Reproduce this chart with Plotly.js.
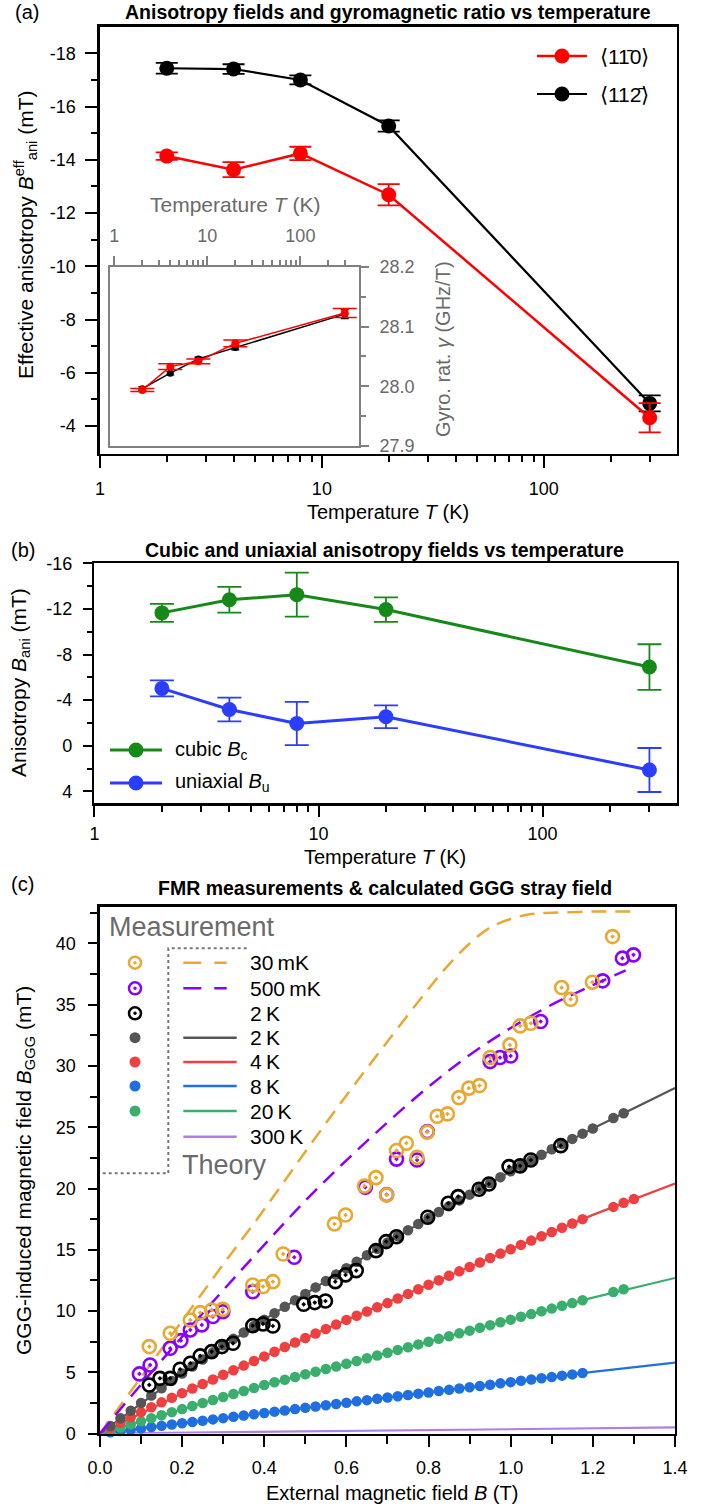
<!DOCTYPE html>
<html><head><meta charset="utf-8">
<script src="https://cdn.plot.ly/plotly-3.0.1.min.js"></script>
<style>html,body{margin:0;padding:0;background:#fff}#chart{width:712px;height:1507px}</style>
</head><body><div id="chart"></div>
<script>
// ---------- Panel (a) data ----------
const temperatures = [2, 4, 8, 20, 300];
const aniso110 = [-14.14, -13.63, -14.24, -12.69, -4.31];
const aniso110Err = [0.14, 0.28, 0.25, 0.4, 0.55];
const aniso112 = [-17.44, -17.41, -17.0, -15.27, -4.85];
const aniso112Err = [0.2, 0.18, 0.17, 0.21, 0.3];
// inset: gyromagnetic ratio (GHz/T)
const gamma110 = [27.994, 28.033, 28.042, 28.072, 28.123];
const gamma110Err = [0.0025, 0.0047, 0.004, 0.0056, 0.0075];
const gamma112 = [27.996, 28.022, 28.046, 28.065, 28.121];
const gamma112Err = [0.003, 0.003, 0.003, 0.004, 0.0075];

// ---------- Panel (b) data ----------
const cubicB = [-11.65, -12.8, -13.25, -11.94, -6.9];
const cubicErr = [0.79, 1.13, 1.93, 1.07, 2.0];
const uniaxB = [-5.03, -3.18, -1.95, -2.54, 2.13];
const uniaxErr = [0.7, 1.04, 1.89, 1.0, 1.93];

// ---------- Panel (c) data ----------
const fieldGrid = [0.025,0.05,0.075,0.1,0.125,0.15,0.175,0.2,0.225,0.25,0.275,0.3,0.325,0.35,0.375,0.4,0.425,0.45,0.475,0.5,0.525,0.55,0.575,0.6,0.625,0.65,0.675,0.7,0.725,0.75,0.775,0.8,0.825,0.85,0.875,0.9,0.925,0.95,0.975,1.0,1.025,1.05,1.075,1.1,1.125,1.15,1.175];
const field2KDots = fieldGrid.concat([1.2, 1.25, 1.275]);
const dots2K = [0.62,1.25,1.87,2.5,3.1,3.7,4.3,4.9,5.48,6.05,6.63,7.2,7.73,8.25,8.78,9.3,9.83,10.35,10.88,11.4,11.93,12.45,12.98,13.5,14.03,14.55,15.08,15.6,16.1,16.6,17.1,17.6,18.08,18.55,19.03,19.5,19.98,20.45,20.93,21.4,21.85,22.3,22.75,23.2,23.63,24.05,24.48,24.9,25.75,26.15];
const field4KDots = fieldGrid.concat([1.25, 1.275, 1.3]);
const dots4K = [0.45,0.9,1.33,1.75,2.15,2.55,2.92,3.3,3.68,4.05,4.42,4.8,5.17,5.55,5.92,6.3,6.68,7.06,7.43,7.8,8.17,8.54,8.91,9.28,9.62,9.97,10.31,10.65,11.03,11.4,11.78,12.15,12.51,12.88,13.24,13.6,13.96,14.33,14.69,15.05,15.4,15.75,16.1,16.45,16.8,17.15,17.5,18.5,18.83,19.15];
const field20KDots = fieldGrid.concat([1.25, 1.275]);
const dots20K = [0.25,0.5,0.75,1.0,1.25,1.5,1.75,2.0,2.25,2.49,2.74,2.98,3.23,3.48,3.72,3.97,4.19,4.4,4.62,4.84,5.05,5.27,5.48,5.7,5.93,6.15,6.38,6.6,6.83,7.05,7.28,7.5,7.73,7.95,8.18,8.4,8.63,8.85,9.08,9.3,9.53,9.75,9.98,10.2,10.43,10.65,10.88,11.55,11.78];
const dots8K = [0.1,0.21,0.32,0.42,0.53,0.63,0.74,0.84,0.95,1.05,1.16,1.26,1.37,1.47,1.58,1.68,1.79,1.89,2.0,2.1,2.21,2.31,2.42,2.52,2.63,2.73,2.84,2.94,3.05,3.15,3.26,3.36,3.47,3.57,3.68,3.78,3.89,3.99,4.1,4.2,4.31,4.41,4.52,4.62,4.73,4.83,4.94];

// theory curves
const fieldTheory = [0, 0.2, 0.4, 0.6, 0.8, 1.0, 1.2, 1.4];
const theory2K = [0, 4.9, 9.3, 13.5, 17.6, 21.4, 24.9, 28.2];
const theory4K = [0, 3.3, 6.3, 9.28, 12.15, 15.05, 17.85, 20.4];
const theory8K = [0, 0.84, 1.68, 2.52, 3.36, 4.2, 5.04, 5.8];
const theory20K = [0, 2.0, 3.97, 5.7, 7.5, 9.3, 11.1, 12.7];
const theory300K = [0, 0.07, 0.14, 0.21, 0.28, 0.35, 0.42, 0.5];
const field30mKTheory = [0, 0.1, 0.2, 0.3, 0.4, 0.5, 0.6, 0.7, 0.8, 0.85, 0.9, 0.95, 1.0, 1.05, 1.1, 1.2, 1.3];
const theory30mK = [0, 4.6, 9.2, 13.8, 18.3, 23.0, 27.6, 32.0, 36.3, 38.3, 40.0, 41.3, 42.0, 42.4, 42.5, 42.6, 42.6];
const field500mKTheory = [0, 0.1, 0.2, 0.3, 0.4, 0.5, 0.6, 0.7, 0.8, 0.9, 1.0, 1.1, 1.2, 1.28];
const theory500mK = [0, 4.0, 7.9, 11.7, 15.4, 19.0, 22.3, 25.4, 28.3, 30.9, 33.1, 35.0, 36.6, 37.8];

// measurements (open circles)
const field30mKMeas = [0.120,0.171,0.220,0.244,0.272,0.299,0.372,0.397,0.421,0.446,0.571,0.598,0.644,0.672,0.698,0.722,0.746,0.772,0.797,0.821,0.846,0.874,0.898,0.924,0.950,0.998,1.023,1.049,1.124,1.146,1.199,1.248];
const meas30mK = [7.1,8.19,9.27,9.87,10.09,10.14,12.13,12.0,12.4,14.66,17.11,17.84,20.21,20.89,19.48,23.1,23.7,22.55,24.6,25.9,26.09,27.42,28.19,28.4,30.69,31.72,33.27,33.49,36.4,35.45,36.84,40.56];
const field500mKMeas = [0.096,0.122,0.171,0.197,0.220,0.248,0.275,0.299,0.372,0.473,0.646,0.698,0.722,0.772,0.797,0.950,0.974,1.0,1.073,1.224,1.272,1.299];
const meas500mK = [4.87,5.6,6.96,7.59,8.46,8.87,9.55,9.95,11.58,14.39,20.1,19.5,22.4,22.33,24.65,30.36,30.69,30.82,33.63,36.95,38.8,39.07];
const field2KMeas = [0.120,0.146,0.171,0.195,0.220,0.244,0.272,0.297,0.324,0.372,0.397,0.421,0.496,0.523,0.549,0.573,0.598,0.624,0.672,0.697,0.722,0.798,0.848,0.872,0.923,0.947,0.996,1.023,1.049,1.122];
const meas2K = [3.97,4.51,4.51,5.25,5.74,6.34,6.69,7.1,7.37,8.81,8.95,8.78,10.55,10.69,10.82,12.4,12.95,13.3,14.93,15.67,16.07,17.66,18.8,19.34,19.94,20.37,21.79,21.85,22.33,23.5];

// ---------- tick labels ----------
const tempTickVals = [1, 10, 100];
const tempTickText = ['1', '10', '100'];
const tempMinor = [2,3,4,5,6,7,8,9,20,30,40,50,60,70,80,90,200,300];
const aTickVals = [-18,-16,-14,-12,-10,-8,-6,-4];
const aTickText = ['-18','-16','-14','-12','-10','-8','-6','-4'];
const gTickVals = [27.9, 28.0, 28.1, 28.2];
const gTickText = ['27.9','28.0','28.1','28.2'];
const bTickVals = [-16,-12,-8,-4,0,4];
const bTickText = ['-16','-12','-8','-4','0','4'];
const cXTickVals = [0,0.2,0.4,0.6,0.8,1.0,1.2,1.4];
const cXTickText = ['0.0','0.2','0.4','0.6','0.8','1.0','1.2','1.4'];
const cYTickVals = [0,5,10,15,20,25,30,35,40];
const cYTickText = ['0','5','10','15','20','25','30','35','40'];

// ---------- styles ----------
const FONT = 'Liberation Sans, Arial, sans-serif';
const RED = '#ff0000', BLACK = '#000000';
const GREEN = '#168a18', BLUE = '#2b3dff';
const C30 = '#e8a832', C500 = '#8a00ff', CGRAY = '#555555', C4K = '#ee4040', C8K = '#1f6fe0', C20K = '#3aae6c', C300K = '#b07ee6';
const GRAYAX = '#808080', GRAYTXT = '#6a6a6a';

const traces = [];
// (a) main
traces.push({x: temperatures, y: aniso112, mode: 'lines+markers', xaxis: 'x', yaxis: 'y',
  line: {color: BLACK, width: 2.2}, marker: {color: BLACK, size: 15},
  error_y: {type: 'data', array: aniso112Err, color: BLACK, thickness: 1.8, width: 11}});
traces.push({x: temperatures, y: aniso110, mode: 'lines+markers', xaxis: 'x', yaxis: 'y',
  line: {color: RED, width: 2.5}, marker: {color: RED, size: 15},
  error_y: {type: 'data', array: aniso110Err, color: RED, thickness: 1.8, width: 11}});
// (a) inset
traces.push({x: temperatures, y: gamma112, mode: 'lines+markers', xaxis: 'x2', yaxis: 'y2',
  line: {color: BLACK, width: 1.5}, marker: {color: BLACK, size: 7},
  error_y: {type: 'data', array: gamma112Err, color: BLACK, thickness: 1.2, width: 4}});
traces.push({x: temperatures, y: gamma110, mode: 'lines+markers', xaxis: 'x2', yaxis: 'y2',
  line: {color: RED, width: 1.5}, marker: {color: RED, size: 8},
  error_y: {type: 'data', array: gamma110Err, color: RED, thickness: 1.5, width: 12}});
// (b)
traces.push({x: temperatures, y: cubicB, mode: 'lines+markers', xaxis: 'x3', yaxis: 'y3',
  line: {color: GREEN, width: 3}, marker: {color: GREEN, size: 15},
  error_y: {type: 'data', array: cubicErr, color: GREEN, thickness: 1.8, width: 12}});
traces.push({x: temperatures, y: uniaxB, mode: 'lines+markers', xaxis: 'x3', yaxis: 'y3',
  line: {color: BLUE, width: 3}, marker: {color: BLUE, size: 15},
  error_y: {type: 'data', array: uniaxErr, color: BLUE, thickness: 1.8, width: 12}});
// (c) theory solid
const solid = (x, y, c) => ({x, y, mode: 'lines', xaxis: 'x4', yaxis: 'y4', line: {color: c, width: 2.2}});
traces.push(solid(fieldTheory, theory300K, C300K));
traces.push(solid(fieldTheory, theory8K, C8K));
traces.push(solid(fieldTheory, theory20K, C20K));
traces.push(solid(fieldTheory, theory4K, C4K));
traces.push(solid(fieldTheory, theory2K, CGRAY));
// (c) dots
const dots = (x, y, c) => ({x, y, mode: 'markers', xaxis: 'x4', yaxis: 'y4', marker: {color: c, size: 10.5}, cliponaxis: false});
traces.push(dots(fieldGrid, dots8K, C8K));
traces.push(dots(field20KDots, dots20K, C20K));
traces.push(dots(field4KDots, dots4K, C4K));
traces.push(dots(field2KDots, dots2K, CGRAY));
// (c) theory dashed
traces.push({x: field30mKTheory, y: theory30mK, mode: 'lines', xaxis: 'x4', yaxis: 'y4', line: {color: C30, width: 2.5, dash: '15px,9px', shape: 'spline'}});
traces.push({x: field500mKTheory, y: theory500mK, mode: 'lines', xaxis: 'x4', yaxis: 'y4', line: {color: C500, width: 2.5, dash: '15px,9px', shape: 'spline'}});
// (c) measurements
const ring = (x, y, c) => ({x, y, mode: 'markers', xaxis: 'x4', yaxis: 'y4', cliponaxis: false,
  marker: {symbol: 'circle-open-dot', color: c, size: 13, line: {color: c, width: 2.6}}});
traces.push(ring(field500mKMeas, meas500mK, C500));
traces.push(ring(field30mKMeas, meas30mK, C30));
traces.push(ring(field2KMeas, meas2K, BLACK));

// ---------- axes ----------
const tf = {family: FONT, size: 18, color: '#000'};
const baseAx = {showgrid: false, zeroline: false, showline: true, linecolor: '#000', linewidth: 2.5, mirror: true,
  ticks: 'outside', tickwidth: 2, tickcolor: '#000', tickfont: tf};
function ax(extra) { return Object.assign({}, baseAx, extra); }
const minorBlack = (vals, len) => ({tickmode: 'array', tickvals: vals, ticks: 'outside', ticklen: len, tickwidth: 2, tickcolor: '#000'});

const layout = {
  width: 712, height: 1507, margin: {l: 0, r: 0, t: 0, b: 0},
  paper_bgcolor: '#fff', plot_bgcolor: 'rgba(0,0,0,0)', showlegend: false,
  font: {family: FONT, color: '#000'},
  xaxis: ax({domain: [0.1404, 0.9508], anchor: 'y', type: 'log', range: [0, 2.6], tickmode: 'array', tickvals: tempTickVals, ticktext: tempTickText,
    ticklen: 12, ticklabelstandoff: 5, minor: minorBlack(tempMinor, 6)}),
  yaxis: ax({domain: [0.69874, 0.98228], anchor: 'x', range: [-2.95, -19], tickmode: 'array', tickvals: aTickVals, ticktext: aTickText,
    ticklen: 12, ticklabelstandoff: 6, minor: minorBlack([-17,-15,-13,-11,-9,-7,-5], 6)}),
  xaxis2: {domain: [0.1545, 0.5042], anchor: 'y2', side: 'top', type: 'log', range: [-0.046, 2.63], showgrid: false, zeroline: false,
    showline: true, mirror: true, linecolor: GRAYAX, linewidth: 2, ticks: 'outside', ticklen: 9, tickwidth: 2, tickcolor: GRAYAX, ticklabelstandoff: 7,
    tickmode: 'array', tickvals: tempTickVals, ticktext: tempTickText, tickfont: {family: FONT, size: 18, color: GRAYTXT},
    minor: {tickmode: 'array', tickvals: tempMinor, ticks: 'outside', ticklen: 5, tickwidth: 2, tickcolor: GRAYAX}},
  yaxis2: {domain: [0.70405, 0.82283], anchor: 'x2', side: 'right', range: [27.9, 28.2], showgrid: false, zeroline: false,
    showline: true, mirror: true, linecolor: GRAYAX, linewidth: 2, ticks: 'outside', ticklen: 8, tickwidth: 2, tickcolor: GRAYAX, ticklabelstandoff: 7,
    tickmode: 'array', tickvals: gTickVals, ticktext: gTickText, tickfont: {family: FONT, size: 18, color: GRAYTXT},
    minor: {tickmode: 'array', tickvals: [27.95, 28.05, 28.15], ticks: 'outside', ticklen: 5, tickwidth: 2, tickcolor: GRAYAX}},
  xaxis3: ax({domain: [0.1327, 0.9508], anchor: 'y3', type: 'log', range: [0, 2.6], tickmode: 'array', tickvals: tempTickVals, ticktext: tempTickText,
    ticklen: 11, ticklabelstandoff: 2, minor: minorBlack(tempMinor, 6)}),
  yaxis3: ax({domain: [0.46695, 0.62621], anchor: 'x3', range: [5.05, -16], tickmode: 'array', tickvals: bTickVals, ticktext: bTickText,
    ticklen: 9, ticklabelstandoff: 7, minor: minorBlack([-14,-10,-6,-2,2], 5)}),
  xaxis4: ax({domain: [0.1404, 0.948], anchor: 'y4', range: [0, 1.4], tickmode: 'array', tickvals: cXTickVals, ticktext: cXTickText,
    ticklen: 11, ticklabelstandoff: 5, minor: minorBlack([0.1,0.3,0.5,0.7,0.9,1.1,1.3], 8)}),
  yaxis4: ax({domain: [0.04871, 0.39834], anchor: 'x4', range: [0, 43], tickmode: 'array', tickvals: cYTickVals, ticktext: cYTickText,
    ticklen: 9, ticklabelstandoff: 9, minor: minorBlack([2.5,7.5,12.5,17.5,22.5,27.5,32.5,37.5,42.5], 7)}),
  annotations: [], shapes: []
};

function txt(text, x, y, opts) {
  layout.annotations.push(Object.assign({text, x, y, xref: 'paper', yref: 'paper', showarrow: false,
    xanchor: 'center', yanchor: 'middle', font: {family: FONT, size: 20, color: '#000'}}, opts || {}));
}
const F = (size, color) => ({family: FONT, size, color: color || '#000'});
// titles and labels
txt('<b>Anisotropy fields and gyromagnetic ratio vs temperature</b>', 0.5449, 0.99204, {font: F(19.5)});
txt('<b>Cubic and uniaxial anisotropy fields vs temperature</b>', 0.5407, 0.63504, {font: F(19.5)});
txt('<b>FMR measurements &amp; calculated GGG stray field</b>', 0.5407, 0.41075, {font: F(19.5)});
txt('(a)', 0.018, 0.99204, {xanchor: 'left'});
txt('(b)', 0.012, 0.63504, {xanchor: 'left'});
txt('(c)', 0.012, 0.4134, {xanchor: 'left'});
txt('Temperature <i>T</i> (K)', 0.5449, 0.66048);
txt('Effective anisotropy <i>B</i><sup>eff</sup><sub>ani</sub> (mT)', 0.0351, 0.8447, {textangle: -90, font: F(21)});
txt('Temperature <i>T</i> (K)', 0.3301, 0.86397, {font: F(21, GRAYTXT)});
txt('Gyro. rat. <i>γ</i> (GHz/T)', 0.6222, 0.76841, {textangle: -90, font: F(20, GRAYTXT)});
txt('Temperature <i>T</i> (K)', 0.5407, 0.43132);
txt('Anisotropy <i>B</i><sub>ani</sub> (mT)', 0.0281, 0.54678, {textangle: -90, font: F(21)});
txt('External magnetic field <i>B</i> (T)', 0.5499, 0.00929);
txt('GGG-induced magnetic field <i>B</i><sub>GGG</sub> (mT)', 0.0351, 0.22362, {textangle: -90, font: F(21)});

// legend helpers
function lineShape(x0, x1, y, color, width, dash) {
  layout.shapes.push({type: 'line', xref: 'paper', yref: 'paper', x0, x1, y0: y, y1: y, line: {color, width, dash: dash || 'solid'}});
}
function circ(x, y, d, fill, lineColor, lw) {
  layout.shapes.push({type: 'circle', xref: 'paper', yref: 'paper', xsizemode: 'pixel', ysizemode: 'pixel', xanchor: x, yanchor: y,
    x0: -d / 2, x1: d / 2, y0: -d / 2, y1: d / 2, fillcolor: fill, line: {color: lineColor || fill, width: lw || 0}});
}
// (a) legend
lineShape(0.7542, 0.8244, 0.96284, RED, 2.5); circ(0.7893, 0.96284, 15, RED);
txt('\u27E811\u03040\u27E9', 0.8399, 0.96284, {xanchor: 'left', font: F(21)});
lineShape(0.7542, 0.8244, 0.93762, BLACK, 2.2); circ(0.7893, 0.93762, 15, BLACK);
txt('\u27E8112\u0304\u27E9', 0.8399, 0.93762, {xanchor: 'left', font: F(21)});
// (b) legend
lineShape(0.1545, 0.2275, 0.50232, GREEN, 3); circ(0.1910, 0.50232, 15, GREEN);
txt('cubic <i>B</i><sub>c</sub>', 0.2430, 0.50232, {xanchor: 'left'});
lineShape(0.1545, 0.2275, 0.48043, BLUE, 3); circ(0.1910, 0.48043, 15, BLUE);
txt('uniaxial <i>B</i><sub>u</sub>', 0.2430, 0.48043, {xanchor: 'left'});
// (c) legend
txt('Measurement', 0.1499, 0.38507, {xanchor: 'left', font: F(27, GRAYTXT)});
txt('Theory', 0.2528, 0.22694, {xanchor: 'left', font: F(27, GRAYTXT)});
layout.shapes.push({type: 'path', xref: 'paper', yref: 'paper', path: 'M 0.3465 0.37074 L 0.2364 0.37074 L 0.2364 0.22144 L 0.1404 0.22144',
  line: {color: '#777', width: 2, dash: 'dot'}});
const rowsY = [0.36118, 0.34419, 0.32760, 0.31141, 0.29529, 0.27936, 0.26277, 0.24572];
const mX = 0.18961, lX0 = 0.25745, lX1 = 0.33244, tX = 0.34874;
const ringLeg = (y, c) => { circ(mX, y, 12, 'rgba(0,0,0,0)', c, 2.5); circ(mX, y, 3.5, c); };
const LF = {xanchor: 'left', font: F(21)};
ringLeg(rowsY[0], C30); lineShape(lX0, 0.3184, rowsY[0], C30, 2.5, '18px,13px'); txt('30\u2009mK', tX, rowsY[0], LF);
ringLeg(rowsY[1], C500); lineShape(lX0, 0.3184, rowsY[1], C500, 2.5, '18px,13px'); txt('500\u2009mK', tX, rowsY[1], LF);
ringLeg(rowsY[2], BLACK); txt('2\u2009K', tX, rowsY[2], LF);
circ(mX, rowsY[3], 11, CGRAY); lineShape(lX0, lX1, rowsY[3], CGRAY, 2.5); txt('2\u2009K', tX, rowsY[3], LF);
circ(mX, rowsY[4], 11, C4K); lineShape(lX0, lX1, rowsY[4], C4K, 2.5); txt('4\u2009K', tX, rowsY[4], LF);
circ(mX, rowsY[5], 11, C8K); lineShape(lX0, lX1, rowsY[5], C8K, 2.5); txt('8\u2009K', tX, rowsY[5], LF);
circ(mX, rowsY[6], 11, C20K); lineShape(lX0, lX1, rowsY[6], C20K, 2.5); txt('20\u2009K', tX, rowsY[6], LF);
lineShape(lX0, lX1, rowsY[7], C300K, 2.5); txt('300\u2009K', tX, rowsY[7], LF);

Plotly.newPlot('chart', traces, layout, {displayModeBar: false, staticPlot: true});
</script></body></html>
